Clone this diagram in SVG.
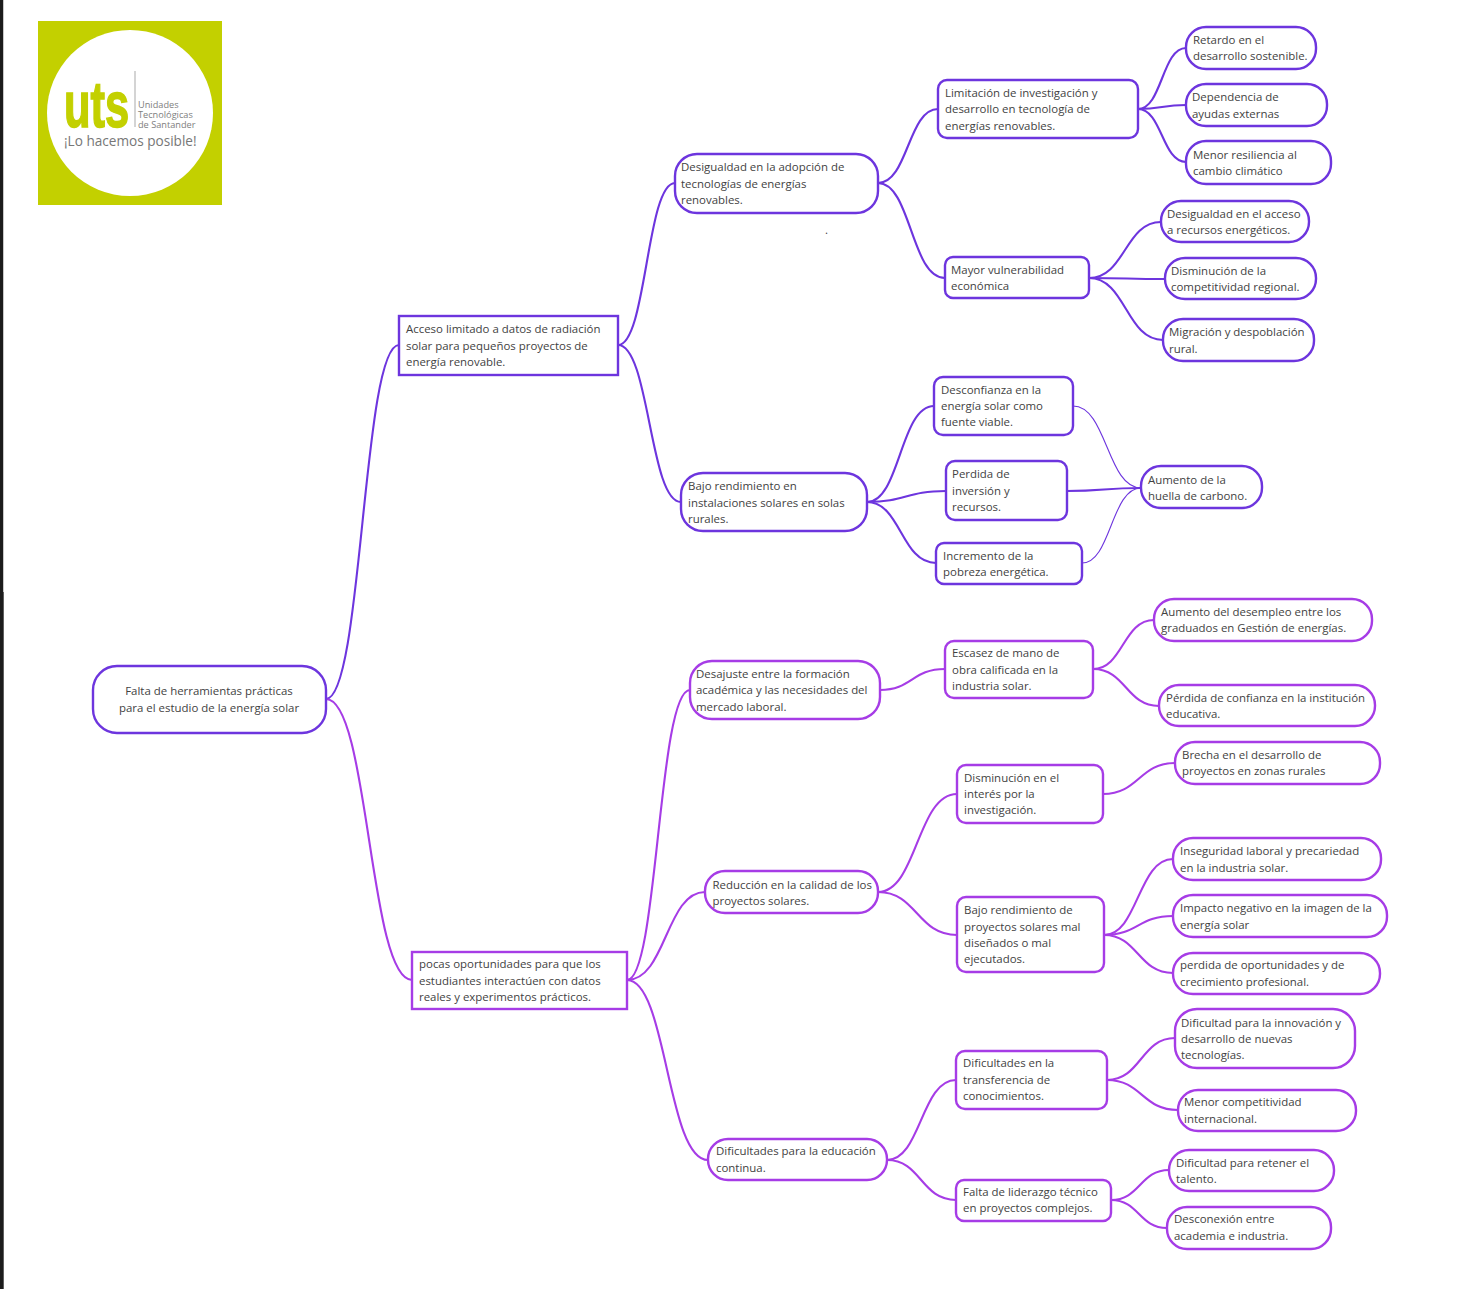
<svg xmlns="http://www.w3.org/2000/svg" width="1473" height="1289" viewBox="0 0 1473 1289">
<style>
text{font-family:"Open Sans","Noto Sans","DejaVu Sans",sans-serif;font-size:11.45px;fill:#424242}
.n{fill:#fff;stroke:#6d35de;stroke-width:2.4}
.p{fill:#fff;stroke:#a63ce6;stroke-width:2.4}
.c path{fill:none;stroke-width:2.1;stroke-linecap:round}
.a path{stroke:#6d35de}
.b path{stroke:#a63ce6}
.c .thin path{stroke-width:1.1}
.s{font-size:9.200px;fill:#808080}
</style>
<rect width="1473" height="1289" fill="#fff"/>
<rect x="0" y="0" width="3" height="592" fill="#1c1c1c"/>
<rect x="3" y="0" width="1" height="592" fill="#c8c8c8"/>
<rect x="0" y="592" width="3.700" height="697" fill="#1c1c1c"/>
<g id="logo">
<rect x="38" y="21" width="184" height="184" fill="#c3d000"/>
<circle cx="130" cy="113" r="83" fill="#fff"/>
<text transform="translate(64 126.500) scale(.68 1)" x="0" y="0" style="font-size:64px;font-weight:700;fill:#c3d000;stroke:#c3d000;stroke-width:1.5px;font-family:'Liberation Sans',sans-serif">uts</text>
<rect x="134.500" y="71" width="1" height="56" fill="#aaa"/>
<text class="s" x="138" y="108">Unidades</text>
<text class="s" x="138" y="118">Tecnológicas</text>
<text class="s" x="138" y="127.500">de Santander</text>
<text x="64" y="146" style="font-size:13.600px;fill:#777">¡Lo hacemos posible!</text>
</g>
<text x="825" y="234">.</text>
<g id="connectors" class="c">
<g class="a">
<path d="M326 699C362.500 699 362.500 345 399 345"/>
<path d="M618 345C646.500 345 646.500 183 675 183"/>
<path d="M618 345C649.500 345 649.500 502 681 502"/>
<path d="M878 183C908 183 908 109 938 109"/>
<path d="M878 183C911 183 911 278 945 278"/>
<path d="M1138 109C1162 109 1162 48 1186 48"/>
<path d="M1138 109C1162 109 1162 105 1186 105"/>
<path d="M1138 109C1162 109 1162 162 1186 162"/>
<path d="M1089 278C1125 278 1125 222 1161 222"/>
<path d="M1089 278C1127 278 1127 279 1165 279"/>
<path d="M1089 278C1126 278 1126 340 1163 340"/>
<path d="M867 502C900 502 900 406 934 406"/>
<path d="M867 502C906 502 906 491 946 491"/>
<path d="M867 502C901 502 901 563 936 563"/>
<path d="M1067 491C1104 491 1104 488 1141 488"/>
</g>
<g class="a thin">
<path d="M1073 406C1107 406 1107 488 1141 488"/>
<path d="M1082 563C1111 563 1111 488 1141 488"/>
</g>
<g class="b">
<path d="M326 699C369 699 369 980 412 980"/>
<path d="M627 980C658 980 658 690 690 690"/>
<path d="M627 980C666 980 666 892 705 892"/>
<path d="M627 980C667 980 667 1160 708 1160"/>
<path d="M880 690C912 690 912 669 945 669"/>
<path d="M1093 669C1123 669 1123 620 1154 620"/>
<path d="M1093 669C1126 669 1126 706 1159 706"/>
<path d="M878 892C917 892 917 794 957 794"/>
<path d="M878 892C917 892 917 935 957 935"/>
<path d="M1103 794C1139 794 1139 763 1175 763"/>
<path d="M1104 935C1138 935 1138 859 1173 859"/>
<path d="M1104 935C1138 935 1138 916 1173 916"/>
<path d="M1104 935C1138 935 1138 973 1173 973"/>
<path d="M887 1160C921 1160 921 1080 956 1080"/>
<path d="M887 1160C921 1160 921 1200 956 1200"/>
<path d="M1107 1080C1141 1080 1141 1038 1175 1038"/>
<path d="M1107 1080C1142 1080 1142 1110 1178 1110"/>
<path d="M1111 1200C1140 1200 1140 1170 1169 1170"/>
<path d="M1111 1200C1139 1200 1139 1228 1167 1228"/>
</g>
</g>
<g id="n0"><rect class="n" x="93" y="666" width="233" height="67" rx="24"/><text x="209" y="695" text-anchor="middle">Falta de herramientas prácticas</text><text x="209" y="712" text-anchor="middle">para el estudio de la energía solar</text></g>
<g id="n1"><rect class="n" x="399" y="316" width="219" height="59" rx="0"/><text x="406" y="333">Acceso limitado a datos de radiación</text><text x="406" y="350">solar para pequeños proyectos de</text><text x="406" y="366">energía renovable.</text></g>
<g id="n2"><rect class="n" x="675" y="154" width="203" height="59" rx="22"/><text x="681" y="171">Desigualdad en la adopción de</text><text x="681" y="188">tecnologías de energías</text><text x="681" y="204">renovables.</text></g>
<g id="n3"><rect class="n" x="938" y="80" width="200" height="58" rx="9"/><text x="945" y="97">Limitación de investigación y</text><text x="945" y="113">desarrollo en tecnología de</text><text x="945" y="130">energías renovables.</text></g>
<g id="n4"><rect class="n" x="1186" y="27" width="130" height="42" rx="20"/><text x="1193" y="44">Retardo en el</text><text x="1193" y="60">desarrollo sostenible.</text></g>
<g id="n5"><rect class="n" x="1186" y="84" width="141" height="42" rx="20"/><text x="1192" y="101">Dependencia de</text><text x="1192" y="118">ayudas externas</text></g>
<g id="n6"><rect class="n" x="1186" y="141" width="145" height="43" rx="20"/><text x="1193" y="159">Menor resiliencia al</text><text x="1193" y="175">cambio climático</text></g>
<g id="n7"><rect class="n" x="945" y="257" width="144" height="41" rx="8"/><text x="951" y="274">Mayor vulnerabilidad</text><text x="951" y="290">económica</text></g>
<g id="n8"><rect class="n" x="1161" y="201" width="148" height="41" rx="20"/><text x="1167" y="218">Desigualdad en el acceso</text><text x="1167" y="234">a recursos energéticos.</text></g>
<g id="n9"><rect class="n" x="1165" y="258" width="151" height="41" rx="20"/><text x="1171" y="275">Disminución de la</text><text x="1171" y="291">competitividad regional.</text></g>
<g id="n10"><rect class="n" x="1163" y="319" width="151" height="42" rx="20"/><text x="1169" y="336">Migración y despoblación</text><text x="1169" y="353">rural.</text></g>
<g id="n11"><rect class="n" x="681" y="473" width="186" height="58" rx="22"/><text x="688" y="490">Bajo rendimiento en</text><text x="688" y="507">instalaciones solares en solas</text><text x="688" y="523">rurales.</text></g>
<g id="n12"><rect class="n" x="934" y="377" width="139" height="58" rx="9"/><text x="941" y="394">Desconfianza en la</text><text x="941" y="410">energía solar como</text><text x="941" y="426">fuente viable.</text></g>
<g id="n13"><rect class="n" x="946" y="461" width="121" height="59" rx="9"/><text x="952" y="478">Perdida de</text><text x="952" y="495">inversión y</text><text x="952" y="511">recursos.</text></g>
<g id="n14"><rect class="n" x="936" y="543" width="146" height="41" rx="8"/><text x="943" y="560">Incremento de la</text><text x="943" y="576">pobreza energética.</text></g>
<g id="n15"><rect class="n" x="1141" y="466" width="121" height="42" rx="20"/><text x="1148" y="484">Aumento de la</text><text x="1148" y="500">huella de carbono.</text></g>
<g id="n16"><rect class="p" x="412" y="952" width="215" height="57" rx="0"/><text x="419" y="968">pocas oportunidades para que los</text><text x="419" y="985">estudiantes interactúen con datos</text><text x="419" y="1001">reales y experimentos prácticos.</text></g>
<g id="n17"><rect class="p" x="690" y="661" width="190" height="58" rx="22"/><text x="696" y="678">Desajuste entre la formación</text><text x="696" y="694">académica y las necesidades del</text><text x="696" y="711">mercado laboral.</text></g>
<g id="n18"><rect class="p" x="945" y="641" width="148" height="57" rx="9"/><text x="952" y="657">Escasez de mano de</text><text x="952" y="674">obra calificada en la</text><text x="952" y="690">industria solar.</text></g>
<g id="n19"><rect class="p" x="1154" y="599" width="218" height="42" rx="20"/><text x="1161" y="616">Aumento del desempleo entre los</text><text x="1161" y="632">graduados en Gestión de energías.</text></g>
<g id="n20"><rect class="p" x="1159" y="685" width="216" height="41" rx="20"/><text x="1166" y="701.500">Pérdida de confianza en la institución</text><text x="1166" y="718">educativa.</text></g>
<g id="n21"><rect class="p" x="705" y="871" width="173" height="42" rx="20"/><text x="712.500" y="888.500">Reducción en la calidad de los</text><text x="712.500" y="905">proyectos solares.</text></g>
<g id="n22"><rect class="p" x="957" y="765" width="146" height="58" rx="9"/><text x="964" y="782">Disminución en el</text><text x="964" y="798">interés por la</text><text x="964" y="814">investigación.</text></g>
<g id="n23"><rect class="p" x="1175" y="742" width="205" height="42" rx="20"/><text x="1182" y="759">Brecha en el desarrollo de</text><text x="1182" y="775">proyectos en zonas rurales</text></g>
<g id="n24"><rect class="p" x="957" y="897" width="147" height="75" rx="9"/><text x="964" y="914">Bajo rendimiento de</text><text x="964" y="931">proyectos solares mal</text><text x="964" y="947">diseñados o mal</text><text x="964" y="963">ejecutados.</text></g>
<g id="n25"><rect class="p" x="1173" y="838" width="208" height="42" rx="20"/><text x="1180" y="855">Inseguridad laboral y precariedad</text><text x="1180" y="872">en la industria solar.</text></g>
<g id="n26"><rect class="p" x="1173" y="895" width="214" height="42" rx="20"/><text x="1180" y="912">Impacto negativo en la imagen de la</text><text x="1180" y="929">energía solar</text></g>
<g id="n27"><rect class="p" x="1173" y="953" width="207" height="41" rx="20"/><text x="1180" y="969">perdida de oportunidades y de</text><text x="1180" y="986">crecimiento profesional.</text></g>
<g id="n28"><rect class="p" x="708" y="1139" width="179" height="41" rx="20"/><text x="716" y="1155">Dificultades para la educación</text><text x="716" y="1172">continua.</text></g>
<g id="n29"><rect class="p" x="956" y="1051" width="151" height="58" rx="9"/><text x="963" y="1067">Dificultades en la</text><text x="963" y="1084">transferencia de</text><text x="963" y="1100">conocimientos.</text></g>
<g id="n30"><rect class="p" x="1175" y="1009" width="180" height="59" rx="22"/><text x="1181" y="1027">Dificultad para la innovación y</text><text x="1181" y="1043">desarrollo de nuevas</text><text x="1181" y="1059">tecnologías.</text></g>
<g id="n31"><rect class="p" x="1178" y="1090" width="178" height="41" rx="20"/><text x="1184" y="1106">Menor competitividad</text><text x="1184" y="1123">internacional.</text></g>
<g id="n32"><rect class="p" x="956" y="1180" width="155" height="41" rx="8"/><text x="963" y="1196">Falta de liderazgo técnico</text><text x="963" y="1212">en proyectos complejos.</text></g>
<g id="n33"><rect class="p" x="1169" y="1150" width="165" height="41" rx="20"/><text x="1176" y="1167">Dificultad para retener el</text><text x="1176" y="1183">talento.</text></g>
<g id="n34"><rect class="p" x="1167" y="1207" width="164" height="42" rx="20"/><text x="1174" y="1223">Desconexión entre</text><text x="1174" y="1240">academia e industria.</text></g>
</svg>
